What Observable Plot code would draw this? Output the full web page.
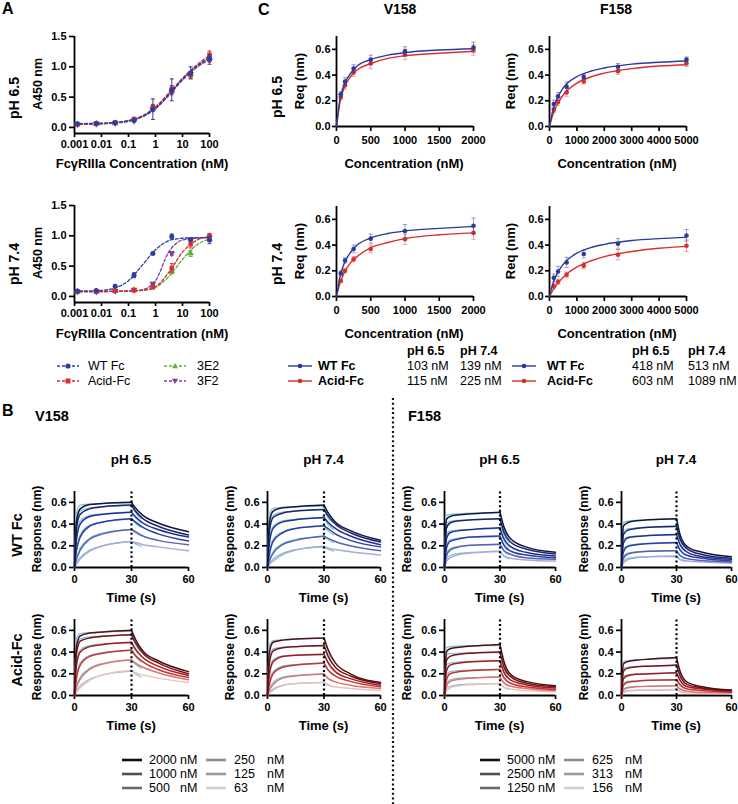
<!DOCTYPE html>
<html><head><meta charset="utf-8">
<script src="https://cdn.jsdelivr.net/npm/d3@7"></script>
<script src="https://cdn.jsdelivr.net/npm/@observablehq/plot@0.6"></script>
<style>
html,body{margin:0;padding:0;background:#fff;}
#fig{position:relative;width:738px;height:804px;overflow:hidden;font-family:"Liberation Sans",Arial,Helvetica,sans-serif;color:#000;background:#fff;}
#fig svg{position:absolute;overflow:visible;}
.t{position:absolute;white-space:nowrap;line-height:1;}
</style></head><body><div id="fig"></div>
<script>
// ---------------- Panel A data ----------------
const aConc = [0.00128, 0.0064, 0.032, 0.16, 0.8, 4, 20, 100];
const aNames = ["WT Fc", "Acid-Fc", "3E2", "3F2"];
const aColors = ["#2f3e9e", "#d62f2f", "#5fb03a", "#7d3c98"];
const aSymbols = ["circle", "square", "triangle", "triangle"];
const aRotate = [0, 0, 0, 180];
const aXTicks = [0.001, 0.01, 0.1, 1, 10, 100];
const aYTicks = [0, 0.5, 1, 1.5];
// pH 6.5
const aWT65 = [0.06, 0.07, 0.08, 0.12, 0.30, 0.62, 0.90, 1.15];
const aWT65Err = [0.01, 0.01, 0.01, 0.02, 0.17, 0.18, 0.10, 0.05];
const aAcid65 = [0.05, 0.06, 0.08, 0.14, 0.34, 0.64, 0.86, 1.20];
const aAcid65Err = [0.01, 0.01, 0.01, 0.02, 0.04, 0.05, 0.05, 0.06];
const a3E265 = [0.05, 0.06, 0.07, 0.13, 0.31, 0.60, 0.88, 1.15];
const a3E265Err = [0.01, 0.01, 0.01, 0.02, 0.03, 0.04, 0.04, 0.05];
const a3F265 = [0.05, 0.06, 0.07, 0.11, 0.30, 0.58, 0.88, 1.10];
const a3F265Err = [0.01, 0.01, 0.01, 0.02, 0.03, 0.04, 0.04, 0.06];
// pH 7.4
const aWT74 = [0.09, 0.10, 0.17, 0.35, 0.71, 0.99, 0.94, 0.93];
const aWT74Err = [0.01, 0.01, 0.02, 0.04, 0.02, 0.04, 0.02, 0.06];
const aAcid74 = [0.08, 0.08, 0.09, 0.10, 0.15, 0.47, 0.86, 1.00];
const aAcid74Err = [0.01, 0.01, 0.01, 0.01, 0.02, 0.07, 0.06, 0.04];
const a3E274 = [0.08, 0.08, 0.09, 0.11, 0.18, 0.41, 0.71, 0.95];
const a3E274Err = [0.01, 0.01, 0.01, 0.01, 0.02, 0.04, 0.05, 0.04];
const a3F274 = [0.08, 0.08, 0.09, 0.11, 0.21, 0.71, 0.93, 0.97];
const a3F274Err = [0.01, 0.01, 0.01, 0.01, 0.02, 0.03, 0.03, 0.04];
// fitted curves read at these concentrations
const aFitX = [0.001, 0.00316, 0.01, 0.0316, 0.1, 0.316, 1, 3.16, 10, 31.6, 100];
const aFitWT65 = [0.06, 0.065, 0.07, 0.08, 0.11, 0.18, 0.32, 0.55, 0.80, 1.00, 1.15];
const aFitAcid65 = [0.05, 0.055, 0.065, 0.08, 0.115, 0.19, 0.34, 0.57, 0.81, 1.02, 1.19];
const aFit3E265 = [0.05, 0.055, 0.06, 0.075, 0.105, 0.175, 0.315, 0.54, 0.79, 1.00, 1.15];
const aFit3F265 = [0.05, 0.055, 0.06, 0.075, 0.10, 0.17, 0.31, 0.53, 0.78, 0.98, 1.12];
const aFitWT74 = [0.09, 0.09, 0.10, 0.14, 0.26, 0.51, 0.77, 0.92, 0.96, 0.97, 0.97];
const aFitAcid74 = [0.08, 0.08, 0.08, 0.085, 0.09, 0.10, 0.16, 0.40, 0.73, 0.92, 0.99];
const aFit3E274 = [0.08, 0.08, 0.08, 0.085, 0.09, 0.10, 0.15, 0.33, 0.61, 0.84, 0.95];
const aFit3F274 = [0.08, 0.08, 0.08, 0.085, 0.09, 0.11, 0.26, 0.74, 0.93, 0.96, 0.97];

// ---------------- Panel C data ----------------
const cColors = {wt: "#2b3a9b", acid: "#d7302c"};
const cConcV = [63, 125, 250, 500, 1000, 2000];
const cConcF = [156, 313, 625, 1250, 2500, 5000];
const cXTicksV = [0, 500, 1000, 1500, 2000];
const cXTicksF = [0, 1000, 2000, 3000, 4000, 5000];
const cYTicks = [0, 0.2, 0.4, 0.6];
const cWTV65 = [0.25, 0.35, 0.45, 0.52, 0.585, 0.615];
const cWTV65Err = [0.02, 0.03, 0.03, 0.035, 0.035, 0.04];
const cAcidV65 = [0.23, 0.32, 0.42, 0.49, 0.56, 0.595];
const cAcidV65Err = [0.02, 0.03, 0.03, 0.04, 0.04, 0.04];
const cWTV74 = [0.18, 0.28, 0.37, 0.45, 0.51, 0.55];
const cWTV74Err = [0.02, 0.02, 0.03, 0.035, 0.05, 0.06];
const cAcidV74 = [0.12, 0.20, 0.29, 0.37, 0.445, 0.495];
const cAcidV74Err = [0.01, 0.015, 0.02, 0.03, 0.04, 0.05];
const cWTF65 = [0.175, 0.235, 0.31, 0.385, 0.465, 0.52];
const cWTF65Err = [0.03, 0.03, 0.035, 0.02, 0.025, 0.02];
const cAcidF65 = [0.13, 0.19, 0.265, 0.35, 0.43, 0.49];
const cAcidF65Err = [0.02, 0.025, 0.03, 0.02, 0.025, 0.025];
const cWTF74 = [0.145, 0.195, 0.265, 0.33, 0.41, 0.475];
const cWTF74Err = [0.03, 0.04, 0.04, 0.03, 0.04, 0.045];
const cAcidF74 = [0.08, 0.115, 0.17, 0.24, 0.325, 0.395];
const cAcidF74Err = [0.02, 0.02, 0.02, 0.025, 0.04, 0.045];
const cFitXV = [0, 50, 100, 200, 300, 500, 750, 1000, 1500, 2000];
const cFitWTV65 = [0, 0.21, 0.31, 0.41, 0.47, 0.52, 0.555, 0.575, 0.595, 0.605];
const cFitAcidV65 = [0, 0.186, 0.284, 0.385, 0.44, 0.49, 0.53, 0.55, 0.57, 0.585];
const cFitWTV74 = [0, 0.15, 0.24, 0.34, 0.40, 0.455, 0.49, 0.51, 0.53, 0.545];
const cFitAcidV74 = [0, 0.10, 0.17, 0.26, 0.31, 0.38, 0.42, 0.45, 0.48, 0.495];
const cFitXF = [0, 100, 250, 500, 1000, 1500, 2000, 3000, 4000, 5000];
const cFitWTF65 = [0, 0.106, 0.206, 0.30, 0.388, 0.43, 0.455, 0.485, 0.50, 0.51];
const cFitAcidF65 = [0, 0.077, 0.158, 0.245, 0.337, 0.385, 0.415, 0.45, 0.47, 0.48];
const cFitWTF74 = [0, 0.083, 0.167, 0.25, 0.337, 0.38, 0.405, 0.435, 0.45, 0.46];
const cFitAcidF74 = [0, 0.04, 0.089, 0.15, 0.23, 0.276, 0.31, 0.35, 0.375, 0.39];
const kdHeaders = ["pH 6.5", "pH 7.4"];
const kdV158WT = ["103 nM", "139 nM"];
const kdV158Acid = ["115 nM", "225 nM"];
const kdF158WT = ["418 nM", "513 nM"];
const kdF158Acid = ["603 nM", "1089 nM"];

// ---------------- Panel B data ----------------
const sensorT = [0, 1, 3, 8, 15, 30, 32, 36, 44, 60];
const fitT = [0, 1, 3, 8, 15, 30, 32, 35];
const bConcV = ["2000", "1000", "500", "250", "125", "63"];
const bConcF = ["5000", "2500", "1250", "625", "313", "156"];
const bXTicks = [0, 30, 60];
const bYTicks = [0, 0.2, 0.4, 0.6];
const wtShades = ["#14163a", "#1c2670", "#22318e", "#2c3e9f", "#5862b0", "#a8aad9"];
const acidShades = ["#4f0e18", "#7a1416", "#a31b1e", "#c33434", "#d97676", "#efbfbf"];
const legendGreys = ["#111111", "#505050", "#6a6a6a", "#8a8a8a", "#9c9c9c", "#d0d0d0"];
const fitColor = "#7cc4d7";
const bV158WT65 = [
  [0, 0.42, 0.54, 0.58, 0.59, 0.60, 0.55, 0.48, 0.41, 0.33],
  [0, 0.35, 0.49, 0.54, 0.56, 0.575, 0.52, 0.45, 0.38, 0.30],
  [0, 0.25, 0.40, 0.47, 0.49, 0.51, 0.47, 0.41, 0.35, 0.28],
  [0, 0.15, 0.28, 0.38, 0.42, 0.45, 0.42, 0.37, 0.31, 0.245],
  [0, 0.07, 0.16, 0.26, 0.31, 0.35, 0.33, 0.29, 0.25, 0.21],
  [0, 0.03, 0.08, 0.15, 0.20, 0.24, 0.23, 0.21, 0.19, 0.155]];
const bV158WT74 = [
  [0, 0.42, 0.52, 0.55, 0.56, 0.575, 0.51, 0.42, 0.34, 0.25],
  [0, 0.33, 0.46, 0.50, 0.52, 0.535, 0.48, 0.40, 0.32, 0.235],
  [0, 0.22, 0.36, 0.42, 0.44, 0.46, 0.42, 0.36, 0.29, 0.21],
  [0, 0.12, 0.24, 0.32, 0.36, 0.385, 0.36, 0.31, 0.25, 0.19],
  [0, 0.06, 0.13, 0.21, 0.25, 0.29, 0.27, 0.24, 0.20, 0.155],
  [0, 0.03, 0.06, 0.12, 0.16, 0.195, 0.18, 0.165, 0.145, 0.115]];
const bV158Acid65 = [
  [0, 0.45, 0.55, 0.575, 0.585, 0.60, 0.52, 0.41, 0.32, 0.22],
  [0, 0.38, 0.50, 0.53, 0.545, 0.56, 0.49, 0.39, 0.30, 0.20],
  [0, 0.27, 0.40, 0.45, 0.47, 0.49, 0.43, 0.35, 0.27, 0.185],
  [0, 0.15, 0.28, 0.36, 0.39, 0.42, 0.37, 0.31, 0.24, 0.165],
  [0, 0.07, 0.15, 0.24, 0.29, 0.33, 0.30, 0.26, 0.21, 0.145],
  [0, 0.03, 0.07, 0.14, 0.19, 0.23, 0.21, 0.19, 0.16, 0.12]];
const bV158Acid74 = [
  [0, 0.40, 0.49, 0.51, 0.52, 0.53, 0.43, 0.30, 0.20, 0.12],
  [0, 0.30, 0.41, 0.44, 0.45, 0.46, 0.37, 0.26, 0.18, 0.11],
  [0, 0.19, 0.31, 0.36, 0.37, 0.38, 0.31, 0.22, 0.155, 0.095],
  [0, 0.10, 0.20, 0.26, 0.28, 0.30, 0.24, 0.18, 0.13, 0.08],
  [0, 0.05, 0.10, 0.16, 0.18, 0.20, 0.16, 0.125, 0.095, 0.065],
  [0, 0.02, 0.05, 0.09, 0.11, 0.12, 0.095, 0.08, 0.065, 0.045]];
const bF158WT65 = [
  [0, 0.44, 0.47, 0.485, 0.495, 0.51, 0.38, 0.26, 0.19, 0.14],
  [0, 0.36, 0.41, 0.43, 0.44, 0.45, 0.33, 0.23, 0.17, 0.125],
  [0, 0.26, 0.32, 0.34, 0.35, 0.365, 0.27, 0.19, 0.14, 0.105],
  [0, 0.17, 0.24, 0.265, 0.28, 0.29, 0.21, 0.15, 0.115, 0.09],
  [0, 0.10, 0.16, 0.19, 0.205, 0.215, 0.16, 0.12, 0.09, 0.075],
  [0, 0.05, 0.09, 0.12, 0.135, 0.15, 0.11, 0.085, 0.07, 0.06]];
const bF158WT74 = [
  [0, 0.38, 0.41, 0.43, 0.44, 0.45, 0.30, 0.19, 0.14, 0.10],
  [0, 0.30, 0.34, 0.36, 0.37, 0.38, 0.26, 0.17, 0.12, 0.085],
  [0, 0.22, 0.27, 0.285, 0.295, 0.305, 0.21, 0.14, 0.10, 0.075],
  [0, 0.14, 0.19, 0.21, 0.22, 0.23, 0.16, 0.11, 0.085, 0.06],
  [0, 0.08, 0.12, 0.14, 0.15, 0.155, 0.11, 0.08, 0.065, 0.05],
  [0, 0.04, 0.07, 0.09, 0.10, 0.105, 0.075, 0.06, 0.05, 0.04]];
const bF158Acid65 = [
  [0, 0.40, 0.43, 0.445, 0.455, 0.47, 0.32, 0.19, 0.13, 0.09],
  [0, 0.32, 0.36, 0.38, 0.39, 0.40, 0.27, 0.17, 0.115, 0.08],
  [0, 0.22, 0.28, 0.30, 0.31, 0.32, 0.22, 0.14, 0.10, 0.07],
  [0, 0.14, 0.20, 0.22, 0.23, 0.24, 0.17, 0.11, 0.08, 0.055],
  [0, 0.08, 0.13, 0.15, 0.16, 0.17, 0.12, 0.085, 0.065, 0.045],
  [0, 0.04, 0.07, 0.09, 0.10, 0.11, 0.08, 0.06, 0.045, 0.035]];
const bF158Acid74 = [
  [0, 0.29, 0.31, 0.325, 0.335, 0.35, 0.22, 0.12, 0.08, 0.05],
  [0, 0.22, 0.25, 0.265, 0.27, 0.28, 0.18, 0.10, 0.07, 0.045],
  [0, 0.15, 0.18, 0.195, 0.20, 0.21, 0.14, 0.08, 0.06, 0.04],
  [0, 0.09, 0.12, 0.13, 0.14, 0.145, 0.10, 0.06, 0.045, 0.03],
  [0, 0.05, 0.07, 0.08, 0.085, 0.09, 0.06, 0.04, 0.03, 0.025],
  [0, 0.02, 0.04, 0.045, 0.05, 0.055, 0.035, 0.025, 0.02, 0.015]];
const bFitV158WT65 = [
  [0, 0.50, 0.575, 0.585, 0.59, 0.595, 0.53, 0.47],
  [0, 0.40, 0.52, 0.55, 0.56, 0.57, 0.51, 0.45],
  [0, 0.28, 0.43, 0.48, 0.495, 0.51, 0.46, 0.41],
  [0, 0.16, 0.30, 0.39, 0.42, 0.445, 0.41, 0.37],
  [0, 0.08, 0.18, 0.27, 0.32, 0.35, 0.32, 0.29],
  [0, 0.04, 0.09, 0.16, 0.20, 0.24, 0.22, 0.195]];
const bFitV158WT74 = [
  [0, 0.49, 0.545, 0.555, 0.56, 0.565, 0.49, 0.43],
  [0, 0.38, 0.48, 0.51, 0.52, 0.53, 0.46, 0.41],
  [0, 0.25, 0.38, 0.43, 0.445, 0.455, 0.40, 0.35],
  [0, 0.14, 0.26, 0.33, 0.36, 0.38, 0.34, 0.30],
  [0, 0.07, 0.15, 0.22, 0.26, 0.285, 0.26, 0.23],
  [0, 0.035, 0.08, 0.13, 0.165, 0.19, 0.17, 0.15]];
const bFitV158Acid65 = [
  [0, 0.52, 0.57, 0.58, 0.585, 0.59, 0.50, 0.43],
  [0, 0.43, 0.52, 0.54, 0.55, 0.555, 0.47, 0.40],
  [0, 0.30, 0.42, 0.46, 0.475, 0.485, 0.42, 0.36],
  [0, 0.17, 0.30, 0.37, 0.395, 0.415, 0.36, 0.31],
  [0, 0.085, 0.17, 0.25, 0.295, 0.325, 0.29, 0.25],
  [0, 0.04, 0.09, 0.15, 0.19, 0.225, 0.20, 0.17]];
const bFitV158Acid74 = [
  [0, 0.46, 0.505, 0.515, 0.52, 0.525, 0.41, 0.32],
  [0, 0.35, 0.43, 0.445, 0.45, 0.455, 0.36, 0.28],
  [0, 0.23, 0.33, 0.365, 0.37, 0.375, 0.30, 0.23],
  [0, 0.12, 0.22, 0.27, 0.285, 0.295, 0.235, 0.185],
  [0, 0.06, 0.12, 0.17, 0.185, 0.195, 0.16, 0.13],
  [0, 0.03, 0.06, 0.095, 0.11, 0.12, 0.10, 0.08]];
const bFitF158WT65 = [
  [0, 0.48, 0.49, 0.495, 0.50, 0.505, 0.36, 0.26],
  [0, 0.41, 0.425, 0.435, 0.44, 0.445, 0.31, 0.23],
  [0, 0.31, 0.335, 0.345, 0.35, 0.36, 0.25, 0.19],
  [0, 0.21, 0.255, 0.27, 0.278, 0.285, 0.20, 0.15],
  [0, 0.13, 0.175, 0.195, 0.205, 0.21, 0.15, 0.115],
  [0, 0.07, 0.11, 0.13, 0.14, 0.145, 0.105, 0.08]];
const bFitF158WT74 = [
  [0, 0.41, 0.425, 0.435, 0.44, 0.445, 0.29, 0.20],
  [0, 0.34, 0.355, 0.365, 0.37, 0.375, 0.25, 0.175],
  [0, 0.25, 0.28, 0.29, 0.295, 0.30, 0.20, 0.145],
  [0, 0.17, 0.20, 0.215, 0.22, 0.225, 0.155, 0.11],
  [0, 0.10, 0.13, 0.145, 0.15, 0.155, 0.105, 0.08],
  [0, 0.055, 0.085, 0.095, 0.10, 0.10, 0.07, 0.055]];
const bFitF158Acid65 = [
  [0, 0.44, 0.45, 0.455, 0.46, 0.46, 0.31, 0.21],
  [0, 0.37, 0.385, 0.39, 0.395, 0.395, 0.26, 0.18],
  [0, 0.28, 0.30, 0.31, 0.315, 0.32, 0.21, 0.15],
  [0, 0.19, 0.22, 0.23, 0.235, 0.24, 0.16, 0.115],
  [0, 0.11, 0.145, 0.16, 0.165, 0.17, 0.115, 0.085],
  [0, 0.06, 0.085, 0.10, 0.105, 0.11, 0.075, 0.055]];
const bFitF158Acid74 = [
  [0, 0.31, 0.32, 0.33, 0.335, 0.34, 0.21, 0.13],
  [0, 0.245, 0.26, 0.265, 0.27, 0.275, 0.17, 0.11],
  [0, 0.175, 0.19, 0.20, 0.20, 0.205, 0.13, 0.085],
  [0, 0.11, 0.13, 0.135, 0.14, 0.14, 0.09, 0.06],
  [0, 0.06, 0.075, 0.085, 0.085, 0.09, 0.055, 0.04],
  [0, 0.03, 0.045, 0.05, 0.05, 0.055, 0.035, 0.025]];

// ---------------- helpers ----------------
const fig = document.getElementById("fig");
const FONT = '"Liberation Sans", Arial, Helvetica, sans-serif';
const SVGNS = "http://www.w3.org/2000/svg";

function txt(s, x, y, o = {}) {
  const d = document.createElement("div");
  d.className = "t";
  d.textContent = s;
  const ax = o.anchor === "start" ? "0" : o.anchor === "end" ? "-100%" : "-50%";
  d.style.left = x + "px";
  d.style.top = y + "px";
  d.style.fontSize = (o.size || 13) + "px";
  d.style.fontWeight = o.weight || "bold";
  d.style.transform = `translate(${ax},-50%)` + (o.rot ? " rotate(-90deg)" : "");
  fig.appendChild(d);
}
function rawSvg(x, y, w, h, inner) {
  const s = document.createElementNS(SVGNS, "svg");
  s.setAttribute("width", w); s.setAttribute("height", h);
  s.style.left = x + "px"; s.style.top = y + "px";
  s.innerHTML = inner;
  fig.appendChild(s);
}
const capSym = {draw(ctx, size) { const r = Math.sqrt(size / Math.PI); ctx.moveTo(-r, 0); ctx.lineTo(r, 0); }};

function mk(box, xOpt, yOpt, marks) {
  const ml = 40, mr = 14, mt = 8, mb = 30;
  const p = Plot.plot({
    width: box.x1 - box.x0 + ml + mr,
    height: box.y1 - box.y0 + mt + mb,
    marginLeft: ml, marginRight: mr, marginTop: mt, marginBottom: mb,
    x: xOpt, y: yOpt,
    style: {background: "transparent", fontFamily: FONT, fontSize: "11px", fontWeight: "bold", color: "#000", overflow: "visible"},
    marks
  });
  p.style.position = "absolute";
  p.style.left = (box.x0 - ml) + "px";
  p.style.top = (box.y0 - mt) + "px";
  fig.appendChild(p);
}
function axes(xTicks, yTicks, xDom, yDom, xFmt, yFmt, t) {
  return [
    Plot.axisX(xTicks, {anchor: "bottom", tickSize: t.sx, tickPadding: t.px, tickFormat: xFmt, label: null, strokeWidth: 1.7, fontSize: 11, fontWeight: "bold"}),
    Plot.axisY(yTicks, {anchor: "left", tickSize: t.sy, tickPadding: t.py, tickFormat: yFmt, label: null, strokeWidth: 1.7, fontSize: 11, fontWeight: "bold"}),
    Plot.ruleX([xDom[0]], {y1: yDom[0], y2: yDom[1], stroke: "#000", strokeWidth: 1.8}),
    Plot.ruleY([yDom[0]], {x1: xDom[0], x2: xDom[1], stroke: "#000", strokeWidth: 1.8})
  ];
}

// ---------------- Panel A ----------------
function panelA(box, vals, errs, fits) {
  const xDom = [0.001, 100], yDom = [-0.1, 1.5];
  const marks = axes(aXTicks, aYTicks, xDom, yDom, d => String(d), d3.format(".1f"), {sx: 4, px: 3, sy: 5, py: 3});
  [2, 3, 1, 0].forEach(s => {
    const col = aColors[s];
    const rows = aConc.map((c, i) => ({x: c, y: vals[s][i], e: errs[s][i]}));
    const caps = rows.flatMap(d => [{x: d.x, y: d.y - d.e}, {x: d.x, y: d.y + d.e}]);
    const fr = aFitX.map((x, i) => ({x, y: fits[s][i]}));
    marks.push(
      Plot.line(fr, {x: "x", y: "y", stroke: col, strokeWidth: 1.3, strokeDasharray: "3,2", curve: "monotone-x"}),
      Plot.ruleX(rows, {x: "x", y1: d => d.y - d.e, y2: d => d.y + d.e, stroke: col, strokeWidth: 1}),
      Plot.dot(caps, {x: "x", y: "y", symbol: capSym, r: 2, stroke: col, fill: "none", strokeWidth: 1}),
      Plot.dot(rows, {x: "x", y: "y", symbol: aSymbols[s], rotate: aRotate[s], r: 2.5, fill: col, stroke: "none"})
    );
  });
  mk(box, {type: "log", domain: xDom}, {domain: yDom}, marks);
}
panelA({x0: 74, x1: 209, y0: 36, y1: 133},
  [aWT65, aAcid65, a3E265, a3F265], [aWT65Err, aAcid65Err, a3E265Err, a3F265Err],
  [aFitWT65, aFitAcid65, aFit3E265, aFit3F265]);
panelA({x0: 74, x1: 209, y0: 205, y1: 302},
  [aWT74, aAcid74, a3E274, a3F274], [aWT74Err, aAcid74Err, a3E274Err, a3F274Err],
  [aFitWT74, aFitAcid74, aFit3E274, aFit3F274]);

// ---------------- Panel C ----------------
function panelC(box, conc, xTicks, xMax, wt, wtErr, acid, acidErr, fitX, fitWT, fitAcid) {
  const xDom = [0, xMax], yDom = [0, 0.7];
  const marks = axes(xTicks, cYTicks, xDom, yDom, d => String(d), d3.format(".1f"), {sx: 5, px: 5, sy: 4, py: 2});
  [[acid, acidErr, fitAcid, cColors.acid], [wt, wtErr, fitWT, cColors.wt]].forEach(([v, e, f, col]) => {
    const rows = conc.map((c, i) => ({x: c, y: v[i], e: e[i]}));
    const caps = rows.flatMap(d => [{x: d.x, y: d.y - d.e}, {x: d.x, y: d.y + d.e}]);
    const fr = fitX.map((x, i) => ({x, y: f[i]}));
    marks.push(
      Plot.ruleX(rows, {x: "x", y1: d => d.y - d.e, y2: d => d.y + d.e, stroke: col, strokeOpacity: 0.45, strokeWidth: 1}),
      Plot.dot(caps, {x: "x", y: "y", symbol: capSym, r: 2.2, stroke: col, strokeOpacity: 0.45, fill: "none", strokeWidth: 1}),
      Plot.line(fr, {x: "x", y: "y", stroke: col, strokeWidth: 1.4, curve: "monotone-x"}),
      Plot.dot(rows, {x: "x", y: "y", r: 2.3, fill: col, stroke: "none"})
    );
  });
  mk(box, {domain: xDom}, {domain: yDom}, marks);
}
panelC({x0: 336, x1: 473, y0: 36, y1: 126}, cConcV, cXTicksV, 2000, cWTV65, cWTV65Err, cAcidV65, cAcidV65Err, cFitXV, cFitWTV65, cFitAcidV65);
panelC({x0: 549, x1: 686, y0: 36, y1: 126}, cConcF, cXTicksF, 5000, cWTF65, cWTF65Err, cAcidF65, cAcidF65Err, cFitXF, cFitWTF65, cFitAcidF65);
panelC({x0: 336, x1: 473, y0: 206, y1: 296}, cConcV, cXTicksV, 2000, cWTV74, cWTV74Err, cAcidV74, cAcidV74Err, cFitXV, cFitWTV74, cFitAcidV74);
panelC({x0: 549, x1: 686, y0: 206, y1: 296}, cConcF, cXTicksF, 5000, cWTF74, cWTF74Err, cAcidF74, cAcidF74Err, cFitXF, cFitWTF74, cFitAcidF74);

// ---------------- Panel B ----------------
function splitRows(times, vals, cut) {
  const a = [], d = [];
  vals.forEach((v, i) => {
    if (i <= cut) a.push({t: times[i], v, ph: "a"});
    if (i >= cut) d.push({t: times[i], v, ph: "d"});
  });
  return a.concat(d);
}
function panelB(box, data, fits, shades) {
  const xDom = [0, 60], yDom = [0, 0.7];
  const marks = axes(bXTicks, bYTicks, xDom, yDom, d3.format("d"), d3.format(".1f"), {sx: 4, px: 4, sy: 5, py: 3});
  for (let c = 5; c >= 0; c--) {
    marks.push(Plot.line(splitRows(fitT, fits[c], 5), {x: "t", y: "v", z: "ph", stroke: fitColor, strokeWidth: 1.2, curve: "monotone-x"}));
  }
  for (let c = 5; c >= 0; c--) {
    marks.push(Plot.line(splitRows(sensorT, data[c], 5), {x: "t", y: "v", z: "ph", stroke: shades[c], strokeWidth: 1.5, curve: "monotone-x"}));
  }
  marks.push(Plot.ruleX([30], {y1: 0, y2: 0.7, stroke: "#000", strokeWidth: 2.2, strokeDasharray: "2,2.6"}));
  mk(box, {domain: xDom}, {domain: yDom}, marks);
}
const rowWT = {y0: 491, y1: 567}, rowAcid = {y0: 619, y1: 695};
const colsB = [{x0: 74, x1: 188}, {x0: 267, x1: 380}, {x0: 444, x1: 555}, {x0: 621, x1: 731}];
panelB({...colsB[0], ...rowWT}, bV158WT65, bFitV158WT65, wtShades);
panelB({...colsB[1], ...rowWT}, bV158WT74, bFitV158WT74, wtShades);
panelB({...colsB[2], ...rowWT}, bF158WT65, bFitF158WT65, wtShades);
panelB({...colsB[3], ...rowWT}, bF158WT74, bFitF158WT74, wtShades);
panelB({...colsB[0], ...rowAcid}, bV158Acid65, bFitV158Acid65, acidShades);
panelB({...colsB[1], ...rowAcid}, bV158Acid74, bFitV158Acid74, acidShades);
panelB({...colsB[2], ...rowAcid}, bF158Acid65, bFitF158Acid65, acidShades);
panelB({...colsB[3], ...rowAcid}, bF158Acid74, bFitF158Acid74, acidShades);

// ---------------- Text: panel A ----------------
txt("A", 2, 9, {size: 16, anchor: "start"});
txt("pH 6.5", 14, 98, {size: 14, rot: true});
txt("A450 nm", 38, 84, {size: 12.5, rot: true});
txt("pH 7.4", 14, 264, {size: 14, rot: true});
txt("A450 nm", 38, 253, {size: 12.5, rot: true});
txt("FcγRIIIa Concentration (nM)", 142, 163, {size: 13});
txt("FcγRIIIa Concentration (nM)", 142, 333, {size: 13});
// legend A
function aSwatch(x, y, s) {
  const col = aColors[s];
  let m;
  if (s === 0) m = `<circle cx="11" cy="6" r="2.6" fill="${col}"/>`;
  else if (s === 1) m = `<rect x="8.5" y="3.5" width="5" height="5" fill="${col}"/>`;
  else if (s === 2) m = `<path d="M11,3 L14,8.2 L8,8.2 Z" fill="${col}"/>`;
  else m = `<path d="M11,9 L14,3.8 L8,3.8 Z" fill="${col}"/>`;
  rawSvg(x, y - 6, 22, 12, `<line x1="0" y1="6" x2="22" y2="6" stroke="${col}" stroke-width="1.3" stroke-dasharray="3,2"/>${m}`);
}
aSwatch(57, 366, 0); txt(aNames[0], 88, 366, {size: 12.5, weight: "normal", anchor: "start"});
aSwatch(57, 381, 1); txt(aNames[1], 88, 381, {size: 12.5, weight: "normal", anchor: "start"});
aSwatch(164, 366, 2); txt(aNames[2], 197, 366, {size: 12.5, weight: "normal", anchor: "start"});
aSwatch(164, 381, 3); txt(aNames[3], 197, 381, {size: 12.5, weight: "normal", anchor: "start"});

// ---------------- Text: panel C ----------------
txt("C", 258, 10, {size: 16, anchor: "start"});
txt("V158", 400, 9, {size: 14});
txt("F158", 616, 9, {size: 14});
txt("pH 6.5", 277, 97, {size: 14, rot: true});
txt("pH 7.4", 277, 264, {size: 14, rot: true});
[[299, 81], [510, 81], [299, 251], [510, 251]].forEach(([x, y]) => txt("Req (nm)", x, y, {size: 13, rot: true}));
[[404, 163], [617, 163], [404, 333], [617, 333]].forEach(([x, y]) => txt("Concentration (nM)", x, y, {size: 13}));
function cSwatch(x, y, col) {
  rawSvg(x, y - 6, 24, 12, `<line x1="0" y1="6" x2="24" y2="6" stroke="${col}" stroke-width="1.4"/><circle cx="12" cy="6" r="2.3" fill="${col}"/>`);
}
function cLegend(sx, tx, h1, h2, wtKd, acidKd) {
  cSwatch(sx, 366, cColors.wt); txt("WT Fc", tx, 366, {size: 12.5, anchor: "start"});
  cSwatch(sx, 381, cColors.acid); txt("Acid-Fc", tx, 381, {size: 12.5, anchor: "start"});
  txt(kdHeaders[0], h1, 351, {size: 12.5, anchor: "start"});
  txt(kdHeaders[1], h2, 351, {size: 12.5, anchor: "start"});
  txt(wtKd[0], h1, 366, {size: 12.5, weight: "normal", anchor: "start"});
  txt(wtKd[1], h2, 366, {size: 12.5, weight: "normal", anchor: "start"});
  txt(acidKd[0], h1, 381, {size: 12.5, weight: "normal", anchor: "start"});
  txt(acidKd[1], h2, 381, {size: 12.5, weight: "normal", anchor: "start"});
}
cLegend(288, 318, 407, 460, kdV158WT, kdV158Acid);
cLegend(512, 547, 632, 688, kdF158WT, kdF158Acid);

// ---------------- Text: panel B ----------------
txt("B", 2, 411, {size: 16, anchor: "start"});
txt("V158", 35, 416, {size: 14.5, anchor: "start"});
txt("F158", 408, 416, {size: 14.5, anchor: "start"});
colsB.forEach((c, i) => {
  const cx = (c.x0 + c.x1) / 2;
  txt(i % 2 === 0 ? "pH 6.5" : "pH 7.4", cx, 460, {size: 13.5});
  txt("Time (s)", cx, 597, {size: 13});
  txt("Time (s)", cx, 725, {size: 13});
  txt("Response (nm)", c.x0 - 37, 529, {size: 12, rot: true});
  txt("Response (nm)", c.x0 - 37, 657, {size: 12, rot: true});
});
txt("WT Fc", 17, 535, {size: 14.5, rot: true});
txt("Acid-Fc", 17, 660, {size: 14.5, rot: true});
// separator
rawSvg(390, 398, 6, 406, `<line x1="3" y1="0" x2="3" y2="406" stroke="#111" stroke-width="2.2" stroke-dasharray="2,2.7"/>`);
// concentration legends
function bLegend(x0, conc) {
  const cols = [{sw: x0, num: x0 + 27, nm: x0 + 58}, {sw: x0 + 84, num: x0 + 112, nm: x0 + 145}];
  const ys = [760, 774, 788];
  conc.forEach((c, i) => {
    const col = cols[Math.floor(i / 3)], y = ys[i % 3];
    rawSvg(col.sw, y - 4, 20, 8, `<line x1="0" y1="4" x2="20" y2="4" stroke="${legendGreys[i]}" stroke-width="2.6"/>`);
    txt(c, col.num, y, {size: 12.5, weight: "normal", anchor: "start"});
    txt("nM", col.nm, y, {size: 12.5, weight: "normal", anchor: "start"});
  });
}
bLegend(122, bConcV);
bLegend(480, bConcF);
</script></body></html>
